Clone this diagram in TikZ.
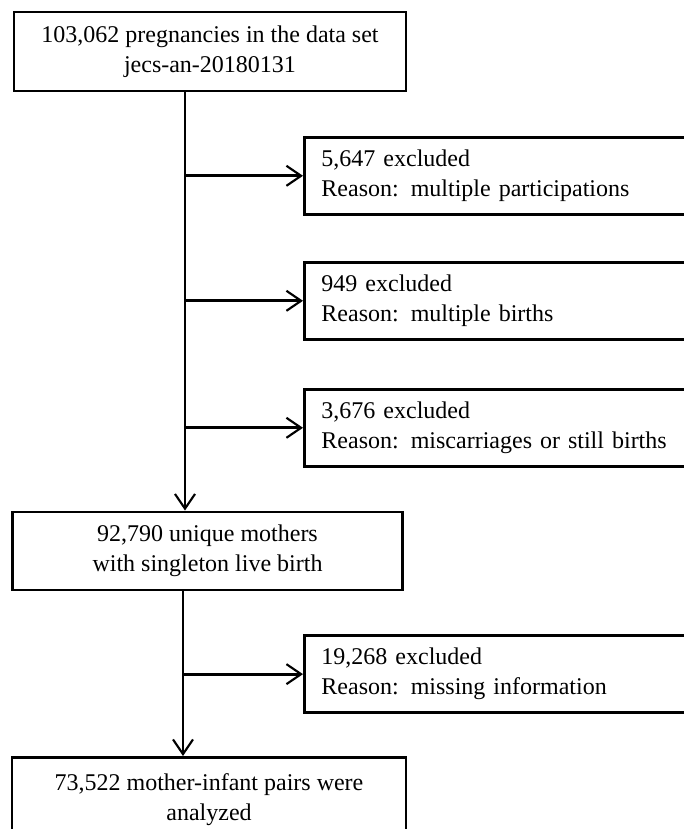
\documentclass[tikz,border=0pt]{standalone}
\usepackage{fontspec}
\setmainfont{Liberation Serif}
\usetikzlibrary{arrows.meta,positioning}
\tikzset{
  >={Straight Barb[length=11pt,width=15pt,line width=1.6pt]},
  mainbox/.style={draw,line width=2.2pt,minimum width=#1,minimum height=58.5pt,
    align=center,font=\fontsize{18}{22.5}\selectfont,inner sep=0pt},
  mainbox/.default=293pt,
  exbox/.style={draw,line width=2.2pt,minimum height=57.5pt,text width=275pt,
    inner xsep=12.75pt,inner ysep=0pt,align=left,font=\fontsize{18}{22.5}\selectfont},
  flow/.style={->,line width=2.2pt},
}
\begin{document}
\begin{tikzpicture}[x=0.75pt,y=-0.75pt]
  \useasboundingbox (0,0) rectangle (683,829);
  \node[mainbox=294pt,minimum height=59.25pt] (top) at (210,51.5)
    {103,062 pregnancies in the data set\\jecs-an-20180131};
  \node[exbox,anchor=north west] (ex1) at (303,136)
    {5,647 excluded\\Reason: multiple participations};
  \node[exbox,anchor=north west] (ex2) at (303,261)
    {949 excluded\\Reason: multiple births};
  \node[exbox,anchor=north west] (ex3) at (303,388)
    {3,676 excluded\\Reason: miscarriages or still births};
  \node[mainbox] (mid) at (207.5,551)
    {92,790 unique mothers\\with singleton live birth};
  \node[exbox,anchor=north west,minimum height=58pt] (ex4) at (303,634)
    {19,268 excluded\\Reason: missing information};
  \node[mainbox=295.5pt,minimum height=63pt,anchor=north] (last) at (209,756)
    {73,522 mother-infant pairs were\\analyzed};
  % trunk lines
  \coordinate (trunk) at (185,0);
  \coordinate (trunk2) at (183,0);
  \draw[flow] (top.south -| trunk) -- (mid.north -| trunk);
  \draw[flow] (mid.south -| trunk2) -- (last.north -| trunk2);
  \foreach \b in {ex1,ex2,ex3}
    \draw[flow] (trunk |- \b.west) -- (\b.west);
  \draw[flow] (trunk2 |- ex4.west) -- (ex4.west);
\end{tikzpicture}
\end{document}
